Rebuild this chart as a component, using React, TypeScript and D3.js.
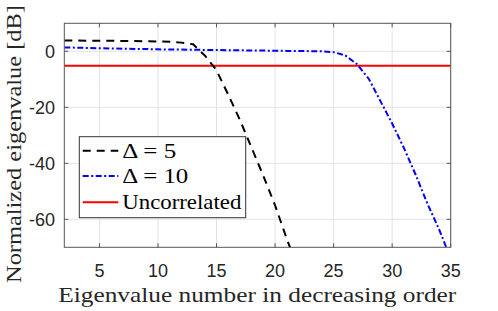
import * as d3 from 'd3';
import { useEffect, useRef } from 'react';

// номера собственных значений
const eigIndex = [2, 3, 4, 5, 6, 7, 8, 9, 10, 11, 12, 13, 14, 15, 16, 17, 18, 19, 20, 21, 22, 23, 24, 25, 26, 27, 28, 29, 30, 31, 32, 33, 34, 35];

// Δ = 5 (индексы 2..22)
const delta5 = [3.9, 3.85, 3.8, 3.8, 3.75, 3.7, 3.65, 3.6, 3.5, 3.4, 3.1, 2.5, -1.5, -6.8, -15.5, -24.5, -34.5, -44.5, -55, -67, -78];

// Δ = 10 (индексы 2..35)
const delta10 = [1.4, 1.3, 1.2, 1.1, 1.0, 0.9, 0.85, 0.8, 0.7, 0.65, 0.6, 0.55, 0.5, 0.45, 0.4, 0.35, 0.3, 0.25, 0.2, 0.15, 0.1, 0.05, 0, -0.3, -1.5, -4.6, -9.8, -17.8, -25.8, -34.5, -44, -54.3, -63.5, -74];

// некоррелированный случай
const uncorrelated = [-5.2, -5.2, -5.2, -5.2, -5.2, -5.2, -5.2, -5.2, -5.2, -5.2, -5.2, -5.2, -5.2, -5.2, -5.2, -5.2, -5.2, -5.2, -5.2, -5.2, -5.2, -5.2, -5.2, -5.2, -5.2, -5.2, -5.2, -5.2, -5.2, -5.2, -5.2, -5.2, -5.2, -5.2];

const xTicks = [5, 10, 15, 20, 25, 30, 35];
const yTicks = [-60, -40, -20, 0];

const legendLabels = ['Δ = 5', 'Δ = 10', 'Uncorrelated'];

const width = 498;
const height = 311;

export default function App() {
	const chartRef = useRef<SVGSVGElement>(null);

	useEffect(() => {
		const svg = d3.select(chartRef.current);
		svg.selectAll('*').remove();

		const margin = { top: 23.3, bottom: 63.7, left: 64.3, right: 47.3 };
		const x0 = margin.left;
		const x1 = width - margin.right;
		const y0 = margin.top;
		const y1 = height - margin.bottom;

		const scaleX = d3.scaleLinear().domain([2, 35]).range([x0, x1]);
		const scaleY = d3.scaleLinear().domain([-70, 10]).range([y1, y0]);

		svg
			.append('defs')
			.append('clipPath')
			.attr('id', 'plot-clip')
			.append('rect')
			.attr('x', x0)
			.attr('y', y0)
			.attr('width', x1 - x0)
			.attr('height', y1 - y0);

		// сетка
		const grid = svg.append('g');
		grid
			.selectAll('.gx')
			.data(xTicks)
			.enter()
			.append('line')
			.attr('x1', (d) => scaleX(d))
			.attr('x2', (d) => scaleX(d))
			.attr('y1', y0)
			.attr('y2', y1)
			.style('stroke', '#e3e3e3')
			.style('stroke-width', 1);
		grid
			.selectAll('.gy')
			.data(yTicks)
			.enter()
			.append('line')
			.attr('x1', x0)
			.attr('x2', x1)
			.attr('y1', (d) => scaleY(d))
			.attr('y2', (d) => scaleY(d))
			.style('stroke', '#e3e3e3')
			.style('stroke-width', 1);

		// рисуем кривые
		const line = d3
			.line<[number, number]>()
			.x((d) => scaleX(d[0]))
			.y((d) => scaleY(d[1]));

		const plot = svg.append('g').attr('clip-path', 'url(#plot-clip)');

		const series = [
			{ values: uncorrelated, color: '#ff0000', dash: 'none' },
			{ values: delta10, color: '#0000ff', dash: '6,2.5,2,2.5' },
			{ values: delta5, color: '#000000', dash: '8,6' },
		];

		series.forEach((s) => {
			const pts = s.values.map((v, i) => [eigIndex[i], v] as [number, number]);
			plot
				.append('path')
				.attr('d', line(pts))
				.style('fill', 'none')
				.style('stroke', s.color)
				.style('stroke-width', 2)
				.style('stroke-dasharray', s.dash);
		});

		// рамка и риски
		svg
			.append('rect')
			.attr('x', x0)
			.attr('y', y0)
			.attr('width', x1 - x0)
			.attr('height', y1 - y0)
			.style('fill', 'none')
			.style('stroke', '#555')
			.style('stroke-width', 1);

		const tickLen = 4;
		const ticks = svg.append('g').style('stroke', '#555').style('stroke-width', 1);
		xTicks.forEach((t) => {
			ticks.append('line').attr('x1', scaleX(t)).attr('x2', scaleX(t)).attr('y1', y1).attr('y2', y1 - tickLen);
			ticks.append('line').attr('x1', scaleX(t)).attr('x2', scaleX(t)).attr('y1', y0).attr('y2', y0 + tickLen);
		});
		yTicks.forEach((t) => {
			ticks.append('line').attr('x1', x0).attr('x2', x0 + tickLen).attr('y1', scaleY(t)).attr('y2', scaleY(t));
			ticks.append('line').attr('x1', x1).attr('x2', x1 - tickLen).attr('y1', scaleY(t)).attr('y2', scaleY(t));
		});

		// подписи рисок
		svg
			.selectAll('.xt')
			.data(xTicks)
			.enter()
			.append('text')
			.attr('x', (d) => scaleX(d))
			.attr('y', 276.7)
			.attr('text-anchor', 'middle')
			.style('font-family', '"Liberation Sans", Arial, sans-serif')
			.style('font-size', '18px')
			.style('fill', '#262626')
			.text((d) => d);

		svg
			.selectAll('.yt')
			.data(yTicks)
			.enter()
			.append('text')
			.attr('x', 55)
			.attr('y', (d) => scaleY(d))
			.attr('dy', '0.36em')
			.attr('text-anchor', 'end')
			.style('font-family', '"Liberation Sans", Arial, sans-serif')
			.style('font-size', '18px')
			.style('fill', '#262626')
			.text((d) => d);

		// подписи осей
		svg
			.append('text')
			.attr('x', 257.3)
			.attr('y', 301.5)
			.attr('text-anchor', 'middle')
			.attr('textLength', 398)
			.attr('lengthAdjust', 'spacingAndGlyphs')
			.style('font-family', '"Liberation Serif", "Times New Roman", serif')
			.style('font-size', '22px')
			.style('fill', '#262626')
			.text('Eigenvalue number in decreasing order');

		svg
			.append('text')
			.attr('transform', 'translate(20.7,144) rotate(-90)')
			.attr('text-anchor', 'middle')
			.attr('textLength', 278)
			.attr('lengthAdjust', 'spacingAndGlyphs')
			.style('font-family', '"Liberation Serif", "Times New Roman", serif')
			.style('font-size', '22px')
			.style('fill', '#262626')
			.text('Normalized eigenvalue [dB]');

		// легенда
		const legend = svg.append('g');
		legend
			.append('rect')
			.attr('x', 79.3)
			.attr('y', 136.7)
			.attr('width', 166.4)
			.attr('height', 81)
			.style('fill', '#fff')
			.style('stroke', '#333')
			.style('stroke-width', 1);

		const rowY = [150.7, 176, 202.3];
		const legendSeries = [series[2], series[1], series[0]];
		const textLens = [54, 66, 119];
		legendSeries.forEach((s, i) => {
			legend
				.append('line')
				.attr('x1', 82.7)
				.attr('x2', 118.3)
				.attr('y1', rowY[i])
				.attr('y2', rowY[i])
				.style('stroke', s.color)
				.style('stroke-width', 2)
				.style('stroke-dasharray', s.dash);
			legend
				.append('text')
				.attr('x', 122.3)
				.attr('y', rowY[i] + 7)
				.attr('textLength', textLens[i])
				.attr('lengthAdjust', 'spacingAndGlyphs')
				.style('font-family', '"Liberation Serif", "Times New Roman", serif')
				.style('font-size', '21px')
				.style('fill', '#000')
				.text(legendLabels[i]);
		});
	}, []);

	return (
		<svg
			ref={chartRef}
			width={width}
			height={height}
			style={{ position: 'absolute', left: 0, top: 0, background: '#fff' }}
		></svg>
	);
}
